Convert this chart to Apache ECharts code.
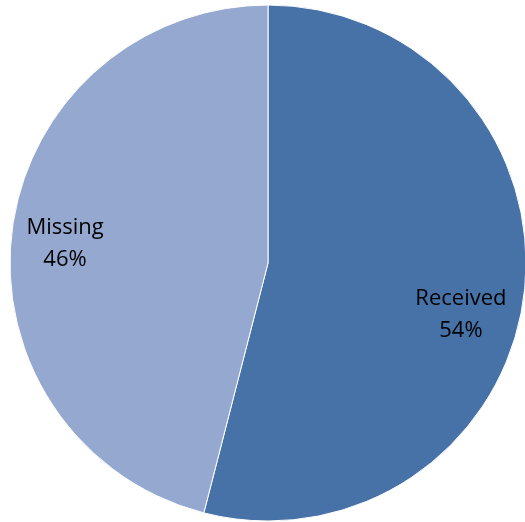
<!DOCTYPE html>
<html>
<head>
<meta charset="utf-8">
<script src="https://cdn.jsdelivr.net/npm/echarts@6/dist/echarts.min.js"></script>
<style>html,body{margin:0;padding:0;background:#fff;}#c{width:525px;height:522px;}</style>
</head>
<body>
<div id="c"></div>
<script>
const categories = ['Received', 'Missing'];
const values = [54, 46];
const colors = ['#4672A7', '#95A9D0'];
const labelOffsets = [[62, 35], [-72, -3]];

const chart = echarts.init(document.getElementById('c'));
chart.setOption({
  animation: false,
  backgroundColor: '#ffffff',
  series: [{
    type: 'pie',
    center: [268, 263],
    radius: [0, 258],
    startAngle: 90,
    clockwise: true,
    itemStyle: { borderColor: '#ffffff', borderWidth: 1 },
    label: {
      show: true,
      position: 'inside',
      formatter: '{b}\n{d}%',
      fontFamily: 'Open Sans',
      fontSize: 22,
      lineHeight: 32,
      color: '#000000'
    },
    labelLine: { show: false },
    data: categories.map((c, i) => ({
      name: c,
      value: values[i],
      itemStyle: { color: colors[i] },
      label: { offset: labelOffsets[i] }
    }))
  }]
});
</script>
</body>
</html>
